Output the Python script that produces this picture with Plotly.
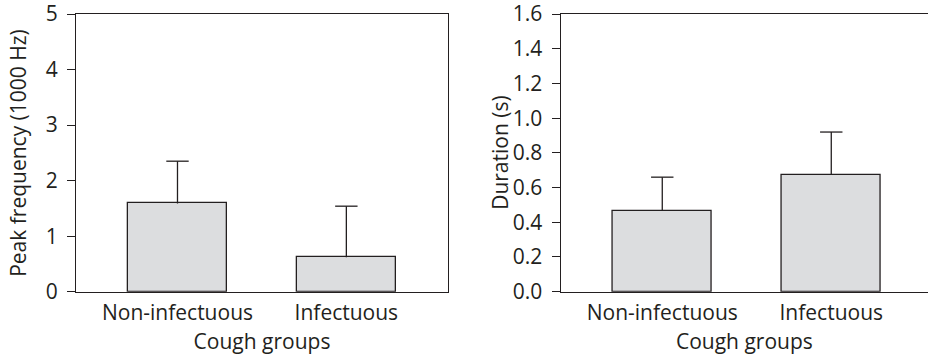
import plotly.graph_objects as go

categories = ["Non-infectuous", "Infectuous"]
peak_freq = [1.59, 0.62]
peak_freq_err = [0.76, 0.92]
duration = [0.467, 0.674]
duration_err = [0.193, 0.246]
peak_ticks = [0, 1, 2, 3, 4, 5]
duration_ticks = [0.0, 0.2, 0.4, 0.6, 0.8, 1.0, 1.2, 1.4, 1.6]

INK = "#231f20"
FILL = "#dcdddf"
FONT = "Open Sans"
FS = 21

W, H = 928, 359
top_px, bot_px = 14, 291.7
yd = [1 - bot_px / H, 1 - top_px / H]
ymid = (yd[0] + yd[1]) / 2

fig = go.Figure()

def add_bar(y, err, xa, ya):
    fig.add_trace(go.Bar(
        x=[0, 1], y=y, width=0.59,
        marker=dict(color=FILL, line=dict(color=INK, width=1.3)),
        error_y=dict(type="data", array=err, symmetric=False, arrayminus=[0, 0],
                     color=INK, thickness=1.3, width=0),
        xaxis=xa, yaxis=ya, showlegend=False, hoverinfo="skip",
    ))
    fig.add_trace(go.Scatter(
        x=[0, 1], y=[v + e for v, e in zip(y, err)], mode="markers",
        marker=dict(symbol="line-ew", size=16, line=dict(color=INK, width=1.3)),
        xaxis=xa, yaxis=ya, showlegend=False, hoverinfo="skip", cliponaxis=False,
    ))

add_bar(peak_freq, peak_freq_err, "x", "y")
add_bar(duration, duration_err, "x2", "y2")

axis_common = dict(showline=True, linecolor=INK, linewidth=1.3, showgrid=False,
                   zeroline=False, automargin=False, ticklabeloverflow="allow",
                   tickfont=dict(family=FONT, size=FS, color=INK),
                   title_font=dict(family=FONT, size=FS, color=INK))

xcommon = dict(axis_common, tickmode="array", tickvals=[0, 1], ticktext=categories,
               ticks="", ticklabelstandoff=2,
               title=dict(text="Cough groups", standoff=9))
ycommon = dict(axis_common, ticks="outside", ticklen=8, tickwidth=1.3, tickcolor=INK,
               ticklabelstandoff=5, tickmode="array")

fig.update_layout(
    width=W, height=H,
    margin=dict(l=0, r=0, t=0, b=0),
    paper_bgcolor="white", plot_bgcolor="white",
    bargap=0,
    xaxis=dict(xcommon, domain=[76 / W, 448 / W], range=[-0.601, 1.602], mirror=True, anchor="y"),
    yaxis=dict(ycommon, domain=yd, range=[0, 5.0005], tickvals=peak_ticks,
               ticktext=[str(t) for t in peak_ticks], mirror=True, anchor="x"),
    xaxis2=dict(xcommon, domain=[560.7 / W, 1.0], range=[-0.601, -0.601 + (W - 560.7) / 169.0],
                mirror=True, anchor="y2"),
    yaxis2=dict(ycommon, domain=yd, range=[0, 1.6002], tickvals=duration_ticks,
                ticktext=[f"{t:.1f}" for t in duration_ticks],
                mirror=False, anchor="x2"),
    annotations=[
        dict(text="Peak frequency (1000 Hz)", xref="paper", yref="paper",
             x=18 / W, y=ymid, xanchor="center", yanchor="middle", textangle=-90,
             showarrow=False, font=dict(family=FONT, size=FS, color=INK)),
        dict(text="Duration (s)", xref="paper", yref="paper",
             x=500 / W, y=ymid, xanchor="center", yanchor="middle", textangle=-90,
             showarrow=False, font=dict(family=FONT, size=FS, color=INK)),
    ],
)

fig.write_html("out.html", post_script="document.body.style.margin='0';",
               config={"displayModeBar": False})
